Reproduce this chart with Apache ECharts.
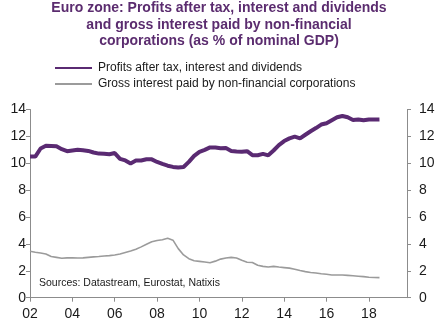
<!DOCTYPE html>
<html>
<head>
<meta charset="utf-8">
<script src="https://cdn.jsdelivr.net/npm/echarts@6/dist/echarts.min.js"></script>
<style>
html,body{margin:0;padding:0;background:#fff;}
#chart{width:438px;height:329px;}
</style>
</head>
<body>
<div id="chart"></div>
<script>
// Quarterly observations, 2002 Q1 .. 2018 Q3 (x = decimal year)
const quarters = [];
for (let i = 0; i <= 66; i++) quarters.push(2002 + i * 0.25);

const profits = [
  10.5, 10.5, 11.1, 11.3,
  11.28, 11.26, 11.05, 10.9,
  10.95, 11.0, 10.97, 10.92,
  10.8, 10.72, 10.71, 10.67,
  10.76, 10.33, 10.21, 9.99,
  10.2, 10.21, 10.3, 10.29,
  10.1, 9.95, 9.82, 9.73,
  9.68, 9.72, 10.1, 10.55,
  10.85, 11.0, 11.18, 11.18,
  11.12, 11.13, 10.92, 10.88,
  10.85, 10.9, 10.6, 10.6,
  10.7, 10.59, 10.95, 11.35,
  11.65, 11.85, 11.98, 11.85,
  12.12, 12.38, 12.62, 12.88,
  12.98, 13.2, 13.42, 13.52,
  13.42, 13.22, 13.26, 13.2,
  13.26, 13.25, 13.26
];

const grossInterest = [
  3.45, 3.38, 3.32, 3.25,
  3.06, 3.0, 2.94, 2.96,
  2.96, 2.95, 2.96, 3.0,
  3.04, 3.06, 3.1, 3.13,
  3.18, 3.25, 3.36, 3.47,
  3.6, 3.78, 3.98, 4.16,
  4.25, 4.31, 4.42, 4.28,
  3.65, 3.18, 2.9, 2.75,
  2.7, 2.65, 2.6, 2.72,
  2.87, 2.95, 3.0, 2.95,
  2.78, 2.64, 2.62, 2.42,
  2.33, 2.28, 2.33, 2.28,
  2.24, 2.2, 2.12, 2.02,
  1.94, 1.88, 1.84, 1.78,
  1.74, 1.69, 1.69, 1.69,
  1.66, 1.63, 1.6, 1.57,
  1.52, 1.5, 1.49
];

const tickYears = [2002, 2004, 2006, 2008, 2010, 2012, 2014, 2016, 2018];
const tickLabels = ['02', '04', '06', '08', '10', '12', '14', '16', '18'];

const seriesNames = [
  'Profits after tax, interest and dividends',
  'Gross interest paid by non-financial corporations'
];
const titleText = 'Euro zone: Profits after tax, interest and dividends\nand gross interest paid by non-financial\ncorporations (as % of nominal GDP)';
const sourceText = 'Sources: Datastream, Eurostat, Natixis';

const FONT = '"Liberation Sans", Arial, sans-serif';
const AXIS_COLOR = '#8c8c8c';

const chart = echarts.init(document.getElementById('chart'), null, {renderer: 'canvas'});

function yAxisCfg(pos, margin) {
  return {
    type: 'value',
    position: pos,
    min: 0, max: 14, interval: 2,
    axisLine: {show: true, lineStyle: {color: AXIS_COLOR, width: 1}},
    axisTick: {show: true, length: 4, lineStyle: {color: AXIS_COLOR}},
    splitLine: {show: false},
    axisLabel: {color: '#1a1a1a', fontSize: 14, fontFamily: FONT, margin: margin}
  };
}

chart.setOption({
  animation: false,
  backgroundColor: '#ffffff',
  title: {
    text: titleText,
    left: 'center',
    top: 0,
    padding: 0,
    textStyle: {
      color: '#5b2c6f', fontSize: 14, fontWeight: 'bold', fontFamily: FONT, lineHeight: 16.5
    }
  },
  legend: {
    orient: 'vertical',
    left: 49,
    top: 57,
    itemWidth: 37,
    itemHeight: 14,
    itemGap: 4,
    data: seriesNames,
    itemStyle: {color: 'transparent', borderColor: 'transparent', borderWidth: 0, opacity: 0},
    textStyle: {color: '#1a1a1a', fontSize: 12, fontFamily: FONT, padding: [0, 0, 0, 1]}
  },
  grid: {left: 30, right: 31, top: 109.5, bottom: 31.3, containLabel: false},
  xAxis: {
    type: 'value',
    min: 2002, max: 2019.8, interval: 2,
    axisLine: {show: true, onZero: false, lineStyle: {color: AXIS_COLOR, width: 1}},
    axisTick: {show: true, length: 4, lineStyle: {color: AXIS_COLOR}, customValues: tickYears},
    splitLine: {show: false},
    axisLabel: {
      color: '#1a1a1a', fontSize: 14, fontFamily: FONT, margin: 9,
      customValues: tickYears,
      formatter: function (v) {
        const i = tickYears.indexOf(Math.round(v));
        return i >= 0 ? tickLabels[i] : '';
      }
    }
  },
  yAxis: [yAxisCfg('left', 4), yAxisCfg('right', 12)],
  graphic: [{
    type: 'text',
    left: 39,
    top: 278,
    style: {text: sourceText, fill: '#1a1a1a', font: '10.5px ' + FONT}
  }],
  series: [
    {
      name: seriesNames[0],
      type: 'line',
      symbol: 'none',
      yAxisIndex: 0,
      lineStyle: {color: '#5a2a72', width: 4},
      itemStyle: {color: '#5a2a72'},
      data: quarters.map((q, i) => [q, profits[i]])
    },
    {
      name: seriesNames[1],
      type: 'line',
      symbol: 'none',
      yAxisIndex: 0,
      lineStyle: {color: '#9b9b9b', width: 1.6},
      itemStyle: {color: '#9b9b9b'},
      data: quarters.map((q, i) => [q, grossInterest[i]])
    }
  ]
});
</script>
</body>
</html>
